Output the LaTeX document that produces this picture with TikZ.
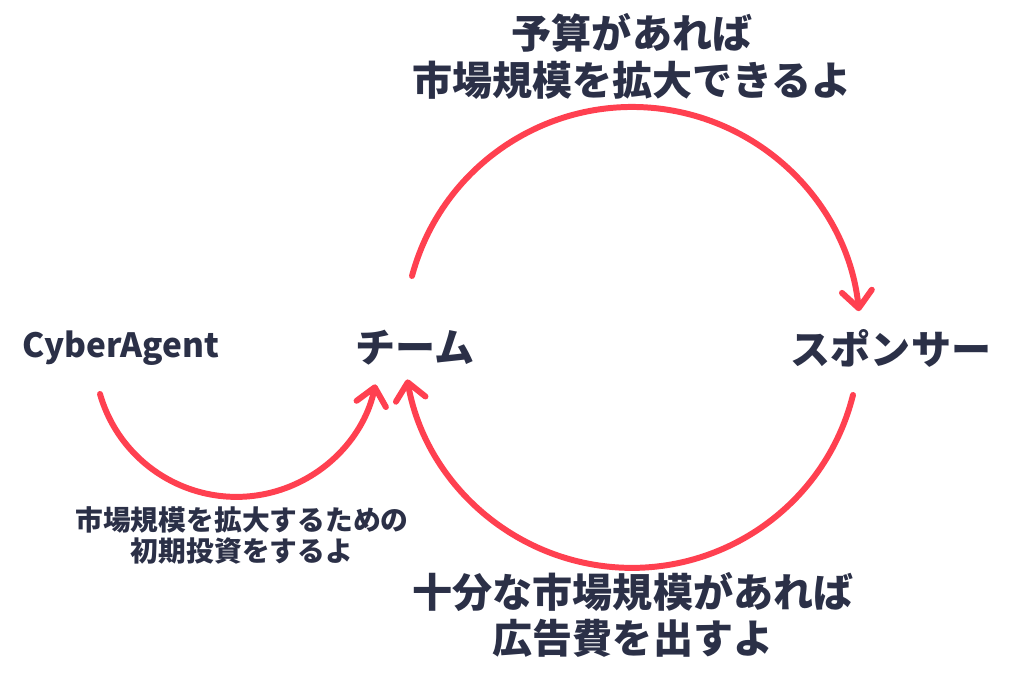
\documentclass[tikz,border=0pt]{standalone}
\usepackage{fontspec}
\setmainfont{Noto Sans CJK JP}
\usepackage{xcolor}
\usepackage{tikz}
\usetikzlibrary{arrows.meta}
\definecolor{loopred}{HTML}{FF4050}
\definecolor{inkblue}{HTML}{2B3047}

\begin{document}
\begin{tikzpicture}[x=0.02cm, y=0.02cm,
  actor/.style={text=inkblue, font=\bfseries\fontsize{22.8}{26.6}\selectfont},
  note/.style={text=inkblue, align=center, font=\bfseries\fontsize{22.8}{26.6}\selectfont},
  smallnote/.style={text=inkblue, align=center, font=\bfseries\fontsize{15.8}{17.6}\selectfont},
  flow/.style={draw=loopred, line width=3.4pt, line cap=round, -{Straight Barb[round, length=3.4mm, width=6mm]}}]
\useasboundingbox (0,0) rectangle (1018,693);
\node[actor, font=\bfseries\fontsize{19}{22}\selectfont] (cyber) at (121,345) {CyberAgent};
\node[actor] (team) at (415,345) {チーム};
\node[actor] (sponsor) at (891,345) {スポンサー};
\node[note] (budget) at (632,636.5) {予算があれば\\市場規模を拡大できるよ};
\node[note] (adspend) at (633,78) {十分な市場規模があれば\\広告費を出すよ};
\node[smallnote] (invest) at (242,157.5) {市場規模を拡大するための\\初期投資をするよ};

\draw[flow] (team) ++(-3,72) arc[start angle=165, end angle=6, radius=228];
\draw[flow] (sponsor) ++(-38,-47) arc[start angle=-14, end angle=-170, radius=228];
\draw[flow] (cyber) ++(-21,-46) arc[start angle=196, end angle=348, radius=142];
\end{tikzpicture}
\end{document}
